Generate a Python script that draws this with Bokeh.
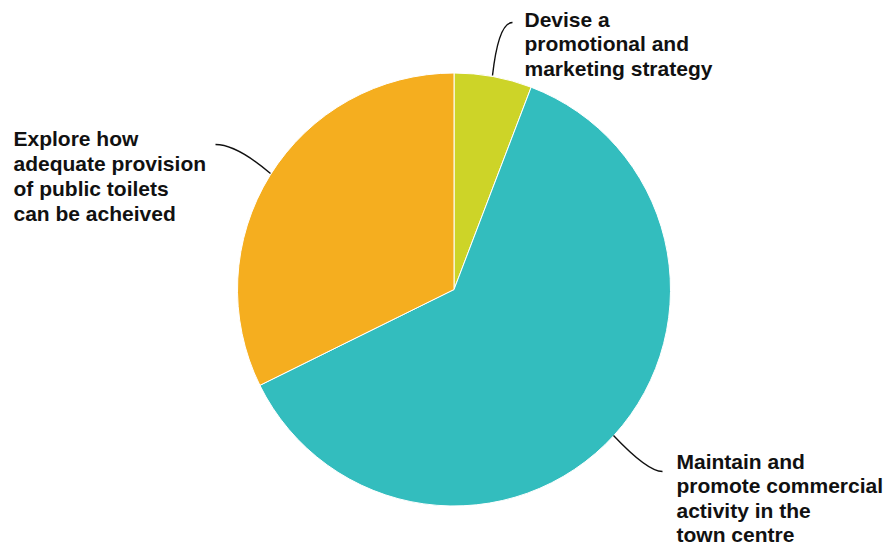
import math
from bokeh.plotting import figure
from bokeh.models import Range1d, ColumnDataSource
from bokeh.core.properties import value
from bokeh.embed import file_html
from bokeh.resources import INLINE

# ---- data ----
categories = [
    "Devise a\npromotional and\nmarketing strategy",
    "Maintain and\npromote commercial\nactivity in the\ntown centre",
    "Explore how\nadequate provision\nof public toilets\ncan be acheived",
]
shares = [5.8, 61.9, 32.3]
colors = ["#CDD428", "#33BDBE", "#F5AE1F"]

# ---- layout (image pixel coordinates) ----
W, H = 885, 546
def Y(img_y):
    return H - img_y

cx, cy, r = 453.5, 289.0, 216.5

p = figure(width=W, height=H,
           x_range=Range1d(0, W), y_range=Range1d(0, H),
           output_backend="svg", toolbar_location=None, min_border=0)
p.axis.visible = False
p.grid.visible = False
p.outline_line_color = None
p.background_fill_color = "white"

total = sum(shares)
starts, ends = [], []
acc = 0.0
for s in shares:
    starts.append(math.pi / 2 - acc / total * 2 * math.pi)
    acc += s
    ends.append(math.pi / 2 - acc / total * 2 * math.pi)

src = ColumnDataSource(dict(start=starts, end=ends, color=colors, name=categories))
p.wedge(x=cx, y=Y(cy), radius=r, start_angle="start", end_angle="end",
        direction="clock", fill_color="color", line_color="white",
        line_width=1, source=src)

# leader lines (start on pie edge, end near label)
leaders = [
    ((492, 75), (498, 22), (512, 22)),
    ((613, 435), (647, 471), (662, 471)),
    ((270, 173), (236, 144), (215, 144)),
]
for (x0, y0), (qx, qy), (x1, y1) in leaders:
    p.quadratic(x0=x0, y0=Y(y0), x1=x1, y1=Y(y1), cx=qx, cy=Y(qy),
                line_color="#111111", line_width=1.4)

# labels: (left x, first line centre y, line gap)
anchors = [(524, 18.5, 24.9), (676, 461.0, 24.4), (13, 138.0, 24.9)]
xs, ys, txt = [], [], []
for (ax, ay, gap), lab in zip(anchors, categories):
    for i, ln in enumerate(lab.split("\n")):
        xs.append(ax)
        ys.append(Y(ay + i * gap))
        txt.append(ln)
p.text(x=xs, y=ys, text=txt, text_font=value("Liberation Sans"),
       text_font_style="bold", text_font_size="21px", text_color="#111111",
       text_align="left", text_baseline="middle")

open("out.html", "w").write(file_html(p, INLINE))
